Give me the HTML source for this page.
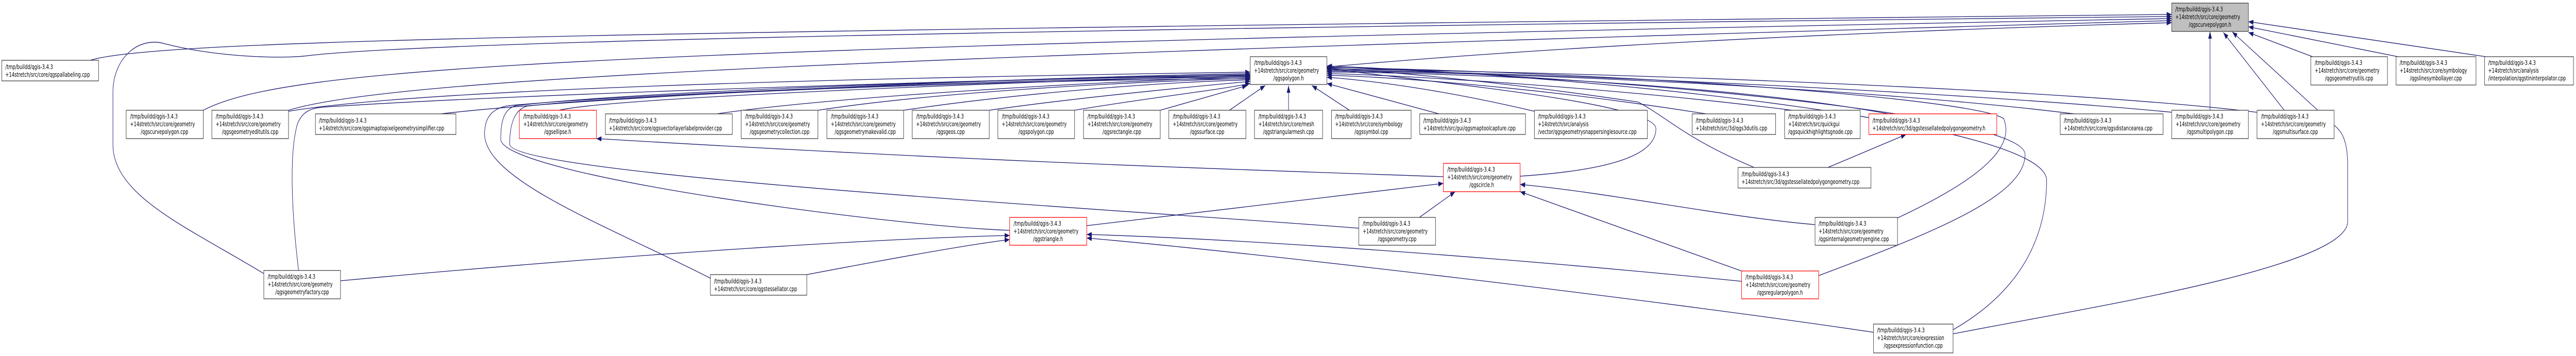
<!DOCTYPE html>
<html><head><meta charset="utf-8"><style>
html,body{margin:0;padding:0;background:#fff;width:100%;height:100%;overflow:hidden;}
svg{display:block;width:100vw;height:100vh;}
text{font-family:"DejaVu Sans","Liberation Sans",sans-serif;font-size:12px;fill:#000;}
.b{fill:#fff;stroke:#404040;stroke-width:1.3;}
.r{fill:#fff;stroke:#ff0000;stroke-width:1.3;}
.g{fill:#bfbfbf;stroke:#404040;stroke-width:1.3;}
.e{fill:none;stroke:#191970;stroke-width:1.3;}
.m{text-anchor:middle;}
</style></head><body>
<svg viewBox="0 0 7187 691" preserveAspectRatio="none" xmlns="http://www.w3.org/2000/svg">
<defs><marker id="a" markerUnits="userSpaceOnUse" markerWidth="14" markerHeight="10" refX="14" refY="5" orient="auto"><path d="M0,0 L14,5 L0,10 z" fill="#191970"/></marker></defs>
<g marker-end="url(#a)">
<path class="e" d="M252,117 C420,80 1500,62 6059,28"/>
<path class="e" d="M736,531 C520,440 315,380 315,280 L315,180 C315,110 390,70 460,85 C600,110 780,115 860,108 C1200,80 3000,55 6059,32"/>
<path class="e" d="M567,214 C800,130 1600,95 6059,36"/>
<path class="e" d="M805,214 C1100,150 2500,110 6059,40"/>
<path class="e" d="M3702,130 C4500,80 5500,55 6059,44"/>
<path class="e" d="M6166,214 L6166,61"/>
<path class="e" d="M6373,214 L6203,63"/>
<path class="e" d="M5449,648 C5800,600 6550,520 6550,430 L6550,320 C6550,270 6530,255 6520,248 L6228,62"/>
<path class="e" d="M6452,110 L6273,63"/>
<path class="e" d="M6690,110 L6273,52"/>
<path class="e" d="M6935,110 L6273,42"/>
<path class="e" d="M805,216 C1200,170 2500,150 3488,140"/>
<path class="e" d="M1230,221 C1600,190 2800,150 3488,143"/>
<path class="e" d="M1560,214 C1700,190 2800,160 3488,146"/>
<path class="e" d="M2000,221 C2300,190 3000,160 3488,149"/>
<path class="e" d="M2282,214 C2600,180 3100,160 3488,152"/>
<path class="e" d="M2521,214 C2800,185 3200,160 3488,155"/>
<path class="e" d="M2760,214 C3000,190 3300,170 3488,158"/>
<path class="e" d="M2998,214 C3200,190 3400,175 3488,162"/>
<path class="e" d="M3237,214 L3480,166"/>
<path class="e" d="M3430,214 L3530,166"/>
<path class="e" d="M3595,214 L3595,166"/>
<path class="e" d="M3765,214 L3660,166"/>
<path class="e" d="M1982,540 C1700,440 1352,350 1352,260 C1352,230 1370,210 1420,205 C1800,180 3000,150 3488,150"/>
<path class="e" d="M2817,447 C2500,440 1397,340 1397,270 C1397,230 1410,210 1440,205 C1800,175 3000,148 3488,148"/>
<path class="e" d="M3791,443 C3200,410 1422,340 1422,280 C1422,235 1440,212 1470,206 C1800,180 3000,152 3488,153"/>
<path class="e" d="M833,525 C815,420 805,300 830,240 C845,215 870,210 900,208 C1500,180 3000,150 3488,145"/>
<path class="e" d="M4015,221 L3702,162"/>
<path class="e" d="M4281,216 C4000,170 3800,155 3702,150"/>
<path class="e" d="M4760,221 C4300,170 3900,150 3702,146"/>
<path class="e" d="M5000,214 C4500,170 3900,145 3702,143"/>
<path class="e" d="M5269,221 C4800,160 4000,140 3702,140"/>
<path class="e" d="M5787,221 C5200,170 4200,140 3702,138"/>
<path class="e" d="M6061,218 C5500,180 4300,140 3702,136"/>
<path class="e" d="M6297,218 C5800,175 4500,140 3702,134"/>
<path class="e" d="M4241,342 C4500,330 4620,300 4620,250 C4620,200 4000,160 3702,133"/>
<path class="e" d="M4894,325 C4703,269 4654,229 4570,198 C4200,160 3900,140 3702,132"/>
<path class="e" d="M5294,423 C5550,340 5620,280 5590,230 C5500,190 4500,140 3702,131"/>
<path class="e" d="M5074,535 C5400,450 5650,380 5650,300 C5650,220 4500,150 3702,130"/>
<path class="e" d="M5449,640 C5650,560 5710,450 5710,350 C5710,240 4500,150 3702,128"/>
<path class="e" d="M950,545 C1800,490 2500,462 2817,457"/>
<path class="e" d="M2251,533 C2500,500 2700,475 2817,465"/>
<path class="e" d="M3032,438 L4027,356"/>
<path class="e" d="M4859,546 C4200,500 3500,465 3032,455"/>
<path class="e" d="M5227,645 C4600,580 3500,490 3032,462"/>
<path class="e" d="M4027,343 C3500,330 2800,316 1664,269"/>
<path class="e" d="M3960,422 L4060,372"/>
<path class="e" d="M5064,436 C4800,420 4500,375 4241,358"/>
<path class="e" d="M4859,526 L4241,372"/>
<path class="e" d="M5100,325 L5318,261"/>
</g>

<rect class="g" x="6059" y="6" width="214" height="55"/>
<text x="6069" y="22">/tmp/buildd/qgis-3.4.3</text><text x="6069" y="37">+14stretch/src/core/geometry</text><text class="m" x="6166" y="52">/qgscurvepolygon.h</text>

<rect class="b" x="5" y="117" width="270" height="40"/>
<text x="15" y="134">/tmp/buildd/qgis-3.4.3</text><text x="15" y="149">+14stretch/src/core/qgspallabeling.cpp</text>

<rect class="b" x="3488" y="110" width="214" height="54"/>
<text x="3499" y="126">/tmp/buildd/qgis-3.4.3</text><text x="3499" y="141">+14stretch/src/core/geometry</text><text class="m" x="3595" y="156">/qgspolygon.h</text>

<rect class="b" x="6447" y="110" width="214" height="55"/>
<text x="6458" y="126">/tmp/buildd/qgis-3.4.3</text><text x="6458" y="141">+14stretch/src/core/geometry</text><text class="m" x="6554" y="156">/qgsgeometryutils.cpp</text>

<rect class="b" x="6685" y="110" width="223" height="55"/>
<text x="6695" y="126">/tmp/buildd/qgis-3.4.3</text><text x="6695" y="141">+14stretch/src/core/symbology</text><text class="m" x="6796" y="156">/qgslinesymbollayer.cpp</text>

<rect class="b" x="6932" y="110" width="248" height="55"/>
<text x="6942" y="126">/tmp/buildd/qgis-3.4.3</text><text x="6942" y="141">+14stretch/src/analysis</text><text x="6942" y="156">/interpolation/qgstininterpolator.cpp</text>

<rect class="b" x="352" y="214" width="215" height="55"/>
<text x="363" y="230">/tmp/buildd/qgis-3.4.3</text><text x="363" y="245">+14stretch/src/core/geometry</text><text class="m" x="459" y="260">/qgscurvepolygon.cpp</text>

<rect class="b" x="591" y="214" width="214" height="55"/>
<text x="602" y="230">/tmp/buildd/qgis-3.4.3</text><text x="602" y="245">+14stretch/src/core/geometry</text><text class="m" x="698" y="260">/qgsgeometryeditutils.cpp</text>

<rect class="b" x="880" y="221" width="392" height="40"/>
<text x="890" y="238">/tmp/buildd/qgis-3.4.3</text><text x="890" y="253">+14stretch/src/core/qgsmaptopixelgeometrysimplifier.cpp</text>

<rect class="r" x="1449" y="214" width="215" height="55"/>
<text x="1460" y="230">/tmp/buildd/qgis-3.4.3</text><text x="1460" y="245">+14stretch/src/core/geometry</text><text class="m" x="1556" y="260">/qgsellipse.h</text>

<rect class="b" x="1689" y="221" width="354" height="40"/>
<text x="1699" y="238">/tmp/buildd/qgis-3.4.3</text><text x="1699" y="253">+14stretch/src/core/qgsvectorlayerlabelprovider.cpp</text>

<rect class="b" x="2068" y="214" width="214" height="55"/>
<text x="2079" y="230">/tmp/buildd/qgis-3.4.3</text><text x="2079" y="245">+14stretch/src/core/geometry</text><text class="m" x="2175" y="260">/qgsgeometrycollection.cpp</text>

<rect class="b" x="2307" y="214" width="214" height="55"/>
<text x="2318" y="230">/tmp/buildd/qgis-3.4.3</text><text x="2318" y="245">+14stretch/src/core/geometry</text><text class="m" x="2414" y="260">/qgsgeometrymakevalid.cpp</text>

<rect class="b" x="2545" y="214" width="215" height="55"/>
<text x="2556" y="230">/tmp/buildd/qgis-3.4.3</text><text x="2556" y="245">+14stretch/src/core/geometry</text><text class="m" x="2652" y="260">/qgsgeos.cpp</text>

<rect class="b" x="2784" y="214" width="214" height="55"/>
<text x="2795" y="230">/tmp/buildd/qgis-3.4.3</text><text x="2795" y="245">+14stretch/src/core/geometry</text><text class="m" x="2891" y="260">/qgspolygon.cpp</text>

<rect class="b" x="3023" y="214" width="214" height="55"/>
<text x="3034" y="230">/tmp/buildd/qgis-3.4.3</text><text x="3034" y="245">+14stretch/src/core/geometry</text><text class="m" x="3130" y="260">/qgsrectangle.cpp</text>

<rect class="b" x="3261" y="214" width="215" height="55"/>
<text x="3272" y="230">/tmp/buildd/qgis-3.4.3</text><text x="3272" y="245">+14stretch/src/core/geometry</text><text class="m" x="3368" y="260">/qgssurface.cpp</text>

<rect class="b" x="3500" y="214" width="190" height="55"/>
<text x="3511" y="230">/tmp/buildd/qgis-3.4.3</text><text x="3511" y="245">+14stretch/src/core/mesh</text><text class="m" x="3595" y="260">/qgstriangularmesh.cpp</text>

<rect class="b" x="3715" y="214" width="222" height="55"/>
<text x="3725" y="230">/tmp/buildd/qgis-3.4.3</text><text x="3725" y="245">+14stretch/src/core/symbology</text><text class="m" x="3826" y="260">/qgssymbol.cpp</text>

<rect class="b" x="3961" y="221" width="295" height="40"/>
<text x="3971" y="238">/tmp/buildd/qgis-3.4.3</text><text x="3971" y="253">+14stretch/src/gui/qgsmaptoolcapture.cpp</text>

<rect class="b" x="4281" y="214" width="315" height="55"/>
<text x="4291" y="230">/tmp/buildd/qgis-3.4.3</text><text x="4291" y="245">+14stretch/src/analysis</text><text x="4291" y="260">/vector/qgsgeometrysnappersinglesource.cpp</text>

<rect class="b" x="4721" y="221" width="233" height="40"/>
<text x="4731" y="238">/tmp/buildd/qgis-3.4.3</text><text x="4731" y="253">+14stretch/src/3d/qgs3dutils.cpp</text>

<rect class="b" x="4979" y="214" width="211" height="55"/>
<text x="4989" y="230">/tmp/buildd/qgis-3.4.3</text><text x="4989" y="245">+14stretch/src/quickgui</text><text x="4989" y="260">/qgsquickhighlightsgnode.cpp</text>

<rect class="r" x="5214" y="221" width="357" height="40"/>
<text x="5224" y="238">/tmp/buildd/qgis-3.4.3</text><text x="5224" y="253">+14stretch/src/3d/qgstessellatedpolygongeometry.h</text>

<rect class="b" x="5748" y="221" width="287" height="40"/>
<text x="5758" y="238">/tmp/buildd/qgis-3.4.3</text><text x="5758" y="253">+14stretch/src/core/qgsdistancearea.cpp</text>

<rect class="b" x="6059" y="214" width="214" height="55"/>
<text x="6070" y="230">/tmp/buildd/qgis-3.4.3</text><text x="6070" y="245">+14stretch/src/core/geometry</text><text class="m" x="6166" y="260">/qgsmultipolygon.cpp</text>

<rect class="b" x="6297" y="214" width="215" height="55"/>
<text x="6308" y="230">/tmp/buildd/qgis-3.4.3</text><text x="6308" y="245">+14stretch/src/core/geometry</text><text class="m" x="6404" y="260">/qgsmultisurface.cpp</text>

<rect class="r" x="4027" y="317" width="214" height="55"/>
<text x="4038" y="333">/tmp/buildd/qgis-3.4.3</text><text x="4038" y="348">+14stretch/src/core/geometry</text><text class="m" x="4134" y="363">/qgscircle.h</text>

<rect class="b" x="4849" y="325" width="371" height="40"/>
<text x="4859" y="342">/tmp/buildd/qgis-3.4.3</text><text x="4859" y="357">+14stretch/src/3d/qgstessellatedpolygongeometry.cpp</text>

<rect class="r" x="2817" y="422" width="215" height="54"/>
<text x="2828" y="438">/tmp/buildd/qgis-3.4.3</text><text x="2828" y="453">+14stretch/src/core/geometry</text><text class="m" x="2924" y="468">/qgstriangle.h</text>

<rect class="b" x="3791" y="422" width="214" height="54"/>
<text x="3802" y="438">/tmp/buildd/qgis-3.4.3</text><text x="3802" y="453">+14stretch/src/core/geometry</text><text class="m" x="3898" y="468">/qgsgeometry.cpp</text>

<rect class="b" x="5064" y="422" width="230" height="54"/>
<text x="5074" y="438">/tmp/buildd/qgis-3.4.3</text><text x="5074" y="453">+14stretch/src/core/geometry</text><text x="5074" y="468">/qgsinternalgeometryengine.cpp</text>

<rect class="b" x="736" y="525" width="214" height="55"/>
<text x="747" y="541">/tmp/buildd/qgis-3.4.3</text><text x="747" y="556">+14stretch/src/core/geometry</text><text class="m" x="843" y="571">/qgsgeometryfactory.cpp</text>

<rect class="b" x="1982" y="533" width="269" height="40"/>
<text x="1992" y="550">/tmp/buildd/qgis-3.4.3</text><text x="1992" y="565">+14stretch/src/core/qgstessellator.cpp</text>

<rect class="r" x="4859" y="526" width="215" height="54"/>
<text x="4870" y="542">/tmp/buildd/qgis-3.4.3</text><text x="4870" y="557">+14stretch/src/core/geometry</text><text class="m" x="4966" y="572">/qgsregularpolygon.h</text>

<rect class="b" x="5227" y="629" width="222" height="56"/>
<text x="5237" y="645">/tmp/buildd/qgis-3.4.3</text><text x="5237" y="660">+14stretch/src/core/expression</text><text class="m" x="5338" y="675">/qgsexpressionfunction.cpp</text>
</svg>
</body></html>
